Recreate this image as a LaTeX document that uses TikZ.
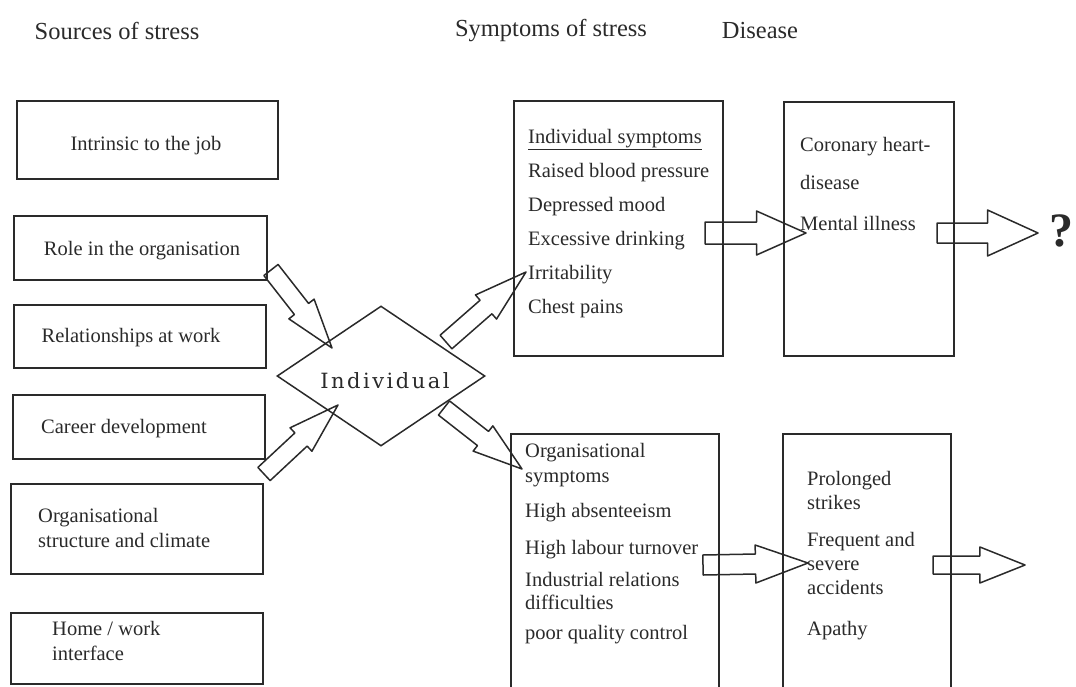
\documentclass[tikz,border=0pt]{standalone}
\usepackage{fontspec}
\setmainfont{Liberation Serif}
\newfontfamily\slabfont[LetterSpace=12]{DejaVu Serif}
\usetikzlibrary{calc,shapes.geometric}
\definecolor{ink}{HTML}{2A2A2A}

\tikzset{
  box/.style={draw=ink, line width=1.6pt, inner sep=0pt, anchor=north west},
  txt/.style={font=\fontsize{20.5}{24}\selectfont, text=ink, inner sep=0pt,
              anchor=west, text height=14pt, text depth=4pt},
  ctxt/.style={txt, anchor=center},
  title/.style={font=\fontsize{24.5}{28}\selectfont, text=ink, inner sep=0pt},
  arrowline/.style={draw=ink, line width=1.5pt, line join=round},
}

% hollow block arrow: tail, tip, shaft half-width, head half-width, barb position
\newcommand\blockarrow[5]{%
  \path ($(#1)!#5!(#2)$) coordinate (ba-m);
  \draw[arrowline]
    ($(#1)!#3pt!90:(#2)$) -- ($(ba-m)!#3pt!90:(#2)$) -- ($(ba-m)!#4pt!90:(#2)$)
    -- (#2)
    -- ($(ba-m)!#4pt!-90:(#2)$) -- ($(ba-m)!#3pt!-90:(#2)$) -- ($(#1)!#3pt!-90:(#2)$)
    -- cycle;
}

\begin{document}
\begin{tikzpicture}[x=1pt,y=-1pt]
\clip (0,0) rectangle (1076,686);

% column headings
\node[title] (hsrc) at (117,31) {Sources of stress};
\node[title] (hsym) at (551,31) {Symptoms of stress};
\node[title] (hdis) at (760,31) {Disease};

% sources of stress
\node[box, minimum width=261, minimum height=78] (b1) at (16,100) {};
\node[box, minimum width=253, minimum height=64] (b2) at (13,215) {};
\node[box, minimum width=252, minimum height=63] (b3) at (13,304) {};
\node[box, minimum width=252, minimum height=64] (b4) at (12,394) {};
\node[box, minimum width=252, minimum height=90] (b5) at (10,483) {};
\node[box, minimum width=252, minimum height=71] (b6) at (10,612) {};

\node[ctxt] (t1) at (146,145) {Intrinsic to the job};
\node[ctxt] (t2) at (142,250) {Role in the organisation};
\node[ctxt] (t3) at (131,337) {Relationships at work};
\node[ctxt] (t4) at (124,428) {Career development};
\node[txt] (t5a) at (38,517) {Organisational};
\node[txt] (t5b) at (38,542) {structure and climate};
\node[txt] (t6a) at (52,630) {Home / work};
\node[txt] (t6b) at (52,655) {interface};

% the individual
\node[diamond, draw=ink, line width=1.5pt, inner sep=0pt, aspect=1.5,
      minimum width=208, minimum height=140] (indiv) at (381,376) {};
\node[font=\slabfont\fontsize{21}{24}\selectfont, text=ink, inner sep=0pt] (indivtxt) at (385,381) {Individual};

% symptoms
\node[box, minimum width=209, minimum height=255] (sym1) at (513,100) {};
\node[box, minimum width=208, minimum height=270] (sym2) at (510,433) {};

\node[txt] (s1a) at (528,138) {\underline{Individual symptoms}};
\node[txt] (s1b) at (528,172) {Raised blood pressure};
\node[txt] (s1c) at (528,206) {Depressed mood};
\node[txt] (s1d) at (528,240) {Excessive drinking};
\node[txt] (s1e) at (528,274) {Irritability};
\node[txt] (s1f) at (528,308) {Chest pains};

\node[txt] (s2a) at (525,452) {Organisational};
\node[txt] (s2b) at (525,477) {symptoms};
\node[txt] (s2c) at (525,512) {High absenteeism};
\node[txt] (s2d) at (525,549) {High labour turnover};
\node[txt] (s2e) at (525,581) {Industrial relations};
\node[txt] (s2f) at (525,604) {difficulties};
\node[txt] (s2g) at (525,634) {poor quality control};

% disease
\node[box, minimum width=170, minimum height=254] (dis1) at (783,101) {};
\node[box, minimum width=168, minimum height=270] (dis2) at (782,433) {};

\node[txt] (d1a) at (800,146) {Coronary heart-};
\node[txt] (d1b) at (800,184) {disease};
\node[txt] (d1c) at (800,225) {Mental illness};

\node[txt] (d2a) at (807,480) {Prolonged};
\node[txt] (d2b) at (807,504) {strikes};
\node[txt] (d2c) at (807,541) {Frequent and};
\node[txt] (d2d) at (807,565) {severe};
\node[txt] (d2e) at (807,589) {accidents};
\node[txt] (d2f) at (807,630) {Apathy};

\node[font=\fontsize{48}{48}\selectfont\bfseries, text=ink, inner sep=0pt] (qm) at (1061,231) {?};

% arrow ends
\coordinate (a1s) at (271,270); \coordinate (a1e) at (332,348);
\coordinate (a2s) at (264,474); \coordinate (a2e) at (338,405);
\coordinate (a3s) at (446,342); \coordinate (a3e) at (526,272);
\coordinate (a4s) at (444,408); \coordinate (a4e) at (522,469);
\coordinate (h1s) at (705,233); \coordinate (h1e) at (806,233);
\coordinate (h2s) at (937,233); \coordinate (h2e) at (1038,233);
\coordinate (h3s) at (703,565); \coordinate (h3e) at (808,563);
\coordinate (h4s) at (933,565); \coordinate (h4e) at (1025,565);

% sources into the individual, individual out to symptoms
\blockarrow{a1s}{a1e}{9}{16}{0.5}
\blockarrow{a2s}{a2e}{9}{16}{0.5}
\blockarrow{a3s}{a3e}{9}{16}{0.5}
\blockarrow{a4s}{a4e}{9}{16}{0.5}

% symptoms into disease, disease onward
\blockarrow{h1s}{h1e}{11}{22}{0.51}
\blockarrow{h2s}{h2e}{10}{23}{0.5}
\blockarrow{h3s}{h3e}{10}{19}{0.5}
\blockarrow{h4s}{h4e}{9}{18}{0.51}
\end{tikzpicture}
\end{document}
